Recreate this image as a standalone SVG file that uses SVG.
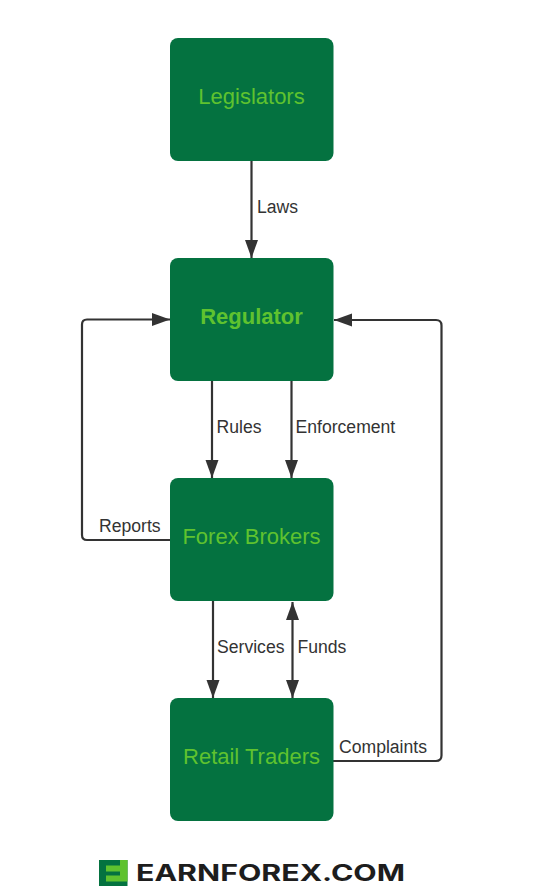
<svg xmlns="http://www.w3.org/2000/svg" width="533" height="893" viewBox="0 0 533 893">
<style>
.n{fill:#047240}
.t{font-family:"Liberation Sans",Arial,sans-serif;font-size:22px;fill:#5fc22f;text-anchor:middle}
.l{font-family:"Liberation Sans",Arial,sans-serif;font-size:17.600px;fill:#333}
.c{fill:none;stroke:#333;stroke-width:2.200}
.a{fill:#333}
</style>
<defs>
<marker id="arr" markerUnits="userSpaceOnUse" markerWidth="19" markerHeight="14" refX="18" refY="6.500" orient="auto-start-reverse"><path d="M0 0L18 6.500L0 13z" class="a"/></marker>
</defs>
<rect width="533" height="893" fill="#fff"/>
<g id="connectors">
<path class="c" marker-end="url(#arr)" d="M251.500 161V258"/>
<path class="c" marker-end="url(#arr)" d="M212 381V478"/>
<path class="c" marker-end="url(#arr)" d="M291.500 381V478"/>
<path class="c" marker-end="url(#arr)" d="M170 540H87Q82 540 82 535V324.500Q82 319.500 87 319.500H170"/>
<path class="c" marker-end="url(#arr)" d="M213 601V698"/>
<path class="c" marker-start="url(#arr)" marker-end="url(#arr)" d="M292.500 602V698"/>
<path class="c" marker-end="url(#arr)" d="M333 761H436Q441.500 761 441.500 755.500V325.500Q441.500 320 436 320H334"/>
<text class="l" x="257" y="212.500">Laws</text>
<text class="l" x="216.500" y="432.500">Rules</text>
<text class="l" x="295.500" y="432.500">Enforcement</text>
<text class="l" x="99" y="531.500">Reports</text>
<text class="l" x="217" y="652.500">Services</text>
<text class="l" x="297.500" y="652.500">Funds</text>
<text class="l" x="339" y="753">Complaints</text>
</g>
<g id="legislators"><rect class="n" x="170" y="38" width="163.500" height="123" rx="8"/><text class="t" x="251.500" y="104">Legislators</text></g>
<g id="regulator"><rect class="n" x="170" y="258" width="163.500" height="123" rx="8"/><text class="t" x="251.500" y="324" font-weight="700">Regulator</text></g>
<g id="forex-brokers"><rect class="n" x="170" y="478" width="163.500" height="123" rx="8"/><text class="t" x="251.500" y="544">Forex Brokers</text></g>
<g id="retail-traders"><rect class="n" x="170" y="698" width="163.500" height="123" rx="8"/><text class="t" x="251.500" y="764">Retail Traders</text></g>
<g id="logo">
<rect x="99" y="860" width="28.500" height="26" fill="#047240"/>
<path d="M120 860H127.500V881.500H106V875.500H120V871.500H106V865.500H120z" fill="#5fc22f"/>
<text x="136" y="881" font-family="Inter,'Liberation Sans',sans-serif" font-weight="700" font-size="23" fill="#1d1d1d" textLength="269" lengthAdjust="spacingAndGlyphs">EARNFOREX.COM</text>
</g>
</svg>
